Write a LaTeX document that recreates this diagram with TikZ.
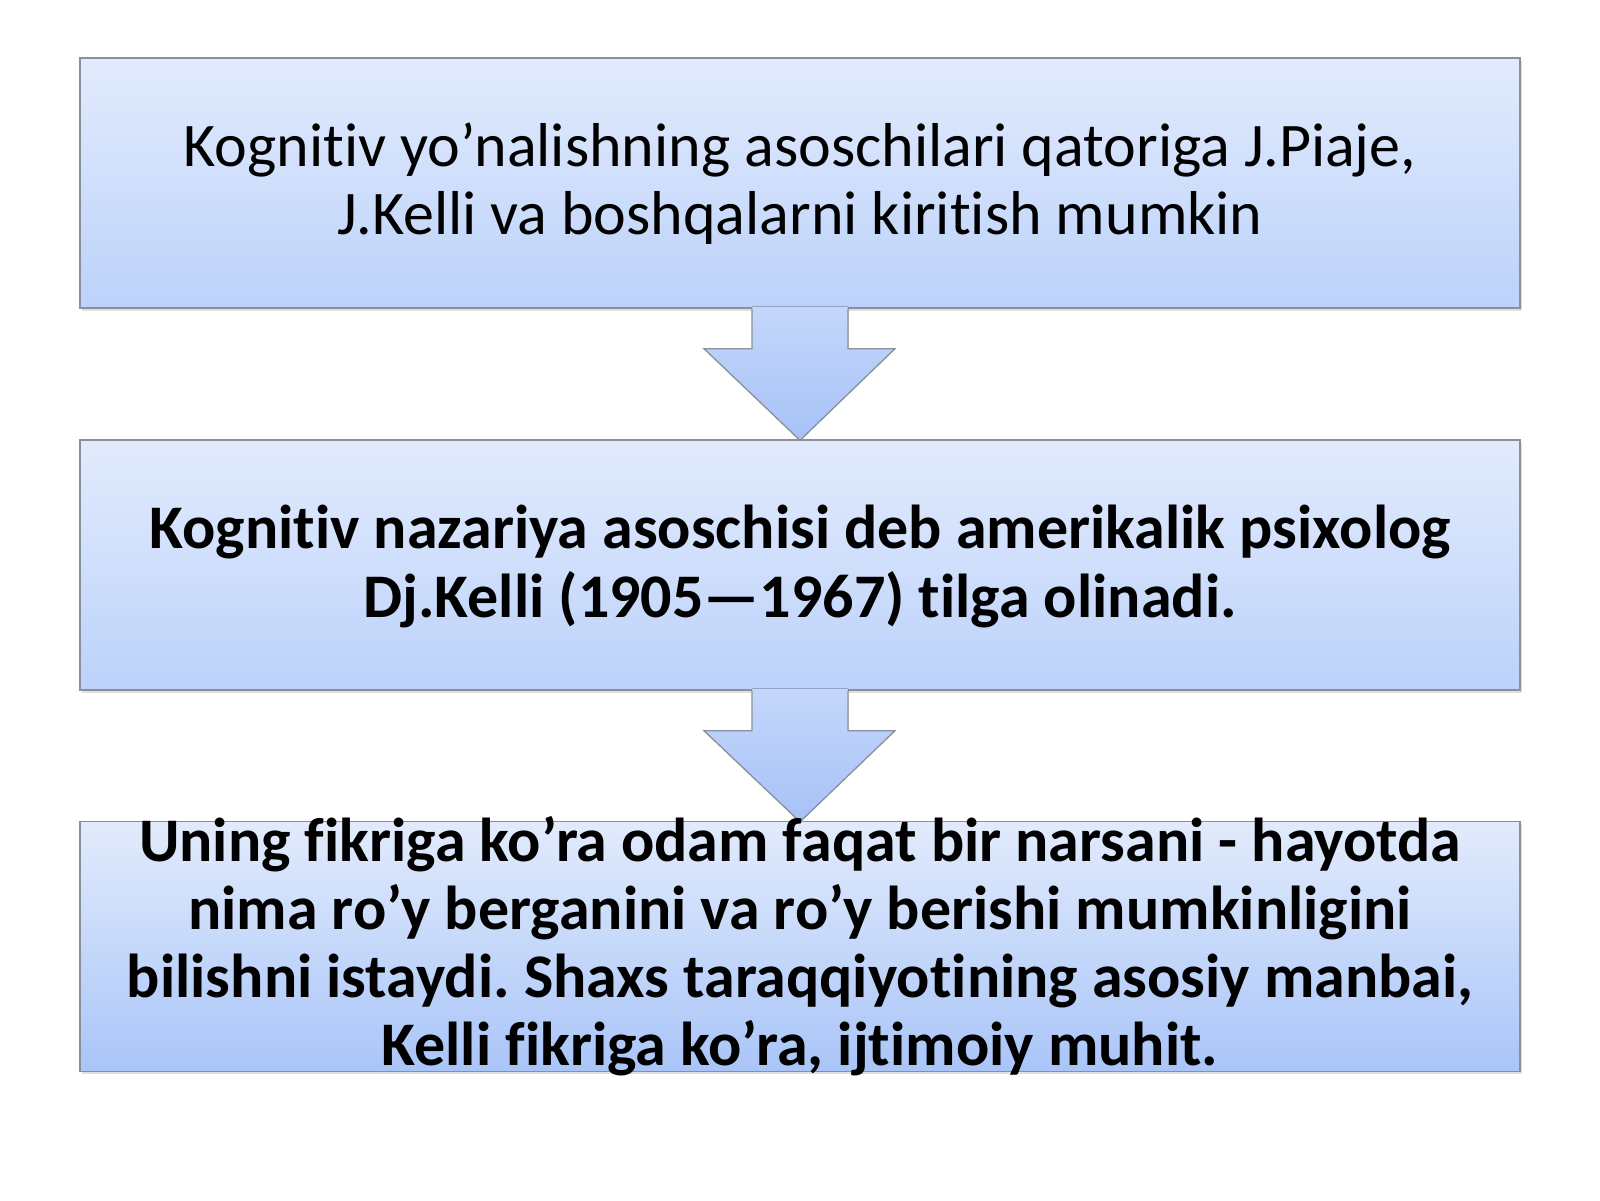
\documentclass[tikz,border=0pt]{standalone}
\usepackage{fontspec}
\setmainfont[Ligatures=NoCommon]{Carlito}
\usetikzlibrary{shadows}
\definecolor{boxtop}{HTML}{E2EBFC}
\definecolor{boxbot}{HTML}{BCD2FB}
\definecolor{boxbotdeep}{HTML}{A9C5F8}
\definecolor{arrtop}{HTML}{C4D7FB}
\definecolor{arrbot}{HTML}{A6C2F7}
\definecolor{edgegray}{HTML}{8A9099}
\begin{document}
\frenchspacing
\begin{tikzpicture}[x=1pt,y=-1pt,
  flowbox/.style={draw=edgegray, line width=1.3pt, top color=boxtop, bottom color=boxbot,
    minimum width=1440pt, minimum height=250pt, inner sep=0pt,
    drop shadow={opacity=0.25, shadow xshift=1.5pt, shadow yshift=-2.5pt}},
  flowtext/.style={align=center, font=\fontsize{62}{68}\selectfont, anchor=base, inner sep=0pt},
  arrowfill/.style={top color=arrtop, bottom color=arrbot, draw=none},
  arrowedge/.style={draw=edgegray, line width=1.3pt, line join=miter}
]
\useasboundingbox (0,0) rectangle (1600,1200);
\fill[white] (0,0) rectangle (1600,1200);

\node[flowbox] (b1) at (800,183) {};
\node[flowbox] (b2) at (800,565) {};
\node[flowbox, bottom color=boxbotdeep] (b3) at (800,946.5) {};

% arrows
\foreach \a/\bb/\n in {b1/b2/1, b2/b3/2} {
  \coordinate (s\n) at (\a.south);
  \coordinate (t\n) at ([yshift=-1pt]\bb.north);
  \fill[arrowfill] ([xshift=-48pt,yshift=2pt]s\n) -- ([xshift=48pt,yshift=2pt]s\n)
     -- ([xshift=48pt,yshift=-40pt]s\n) -- ([xshift=95pt,yshift=-40pt]s\n)
     -- (t\n) -- ([xshift=-96pt,yshift=-40pt]s\n) -- ([xshift=-48pt,yshift=-40pt]s\n) -- cycle;
  \draw[arrowedge] ([xshift=-48pt]s\n) -- ([xshift=-48pt,yshift=-40pt]s\n)
     -- ([xshift=-96pt,yshift=-40pt]s\n) -- (t\n) -- ([xshift=95pt,yshift=-40pt]s\n)
     -- ([xshift=48pt,yshift=-40pt]s\n) -- ([xshift=48pt]s\n);
}

\node[flowtext] (t1) at (800,234) {Kognitiv yo’nalishning asoschilari qatoriga J.Piaje,\\J.Kelli va boshqalarni kiritish mumkin};
\node[flowtext, font=\fontsize{62}{69}\selectfont\bfseries] (t2) at (800,617) {Kognitiv nazariya asoschisi deb amerikalik psixolog\\Dj.Kelli (1905—1967) tilga olinadi.};
\node[flowtext, font=\fontsize{62}{68}\selectfont\bfseries] (t3) at (800,1065) {Uning fikriga ko’ra odam faqat bir narsani - hayotda\\nima ro’y berganini va ro’y berishi mumkinligini\\bilishni istaydi. Shaxs taraqqiyotining asosiy manbai,\\Kelli fikriga ko’ra, ijtimoiy muhit.};
\end{tikzpicture}
\end{document}
